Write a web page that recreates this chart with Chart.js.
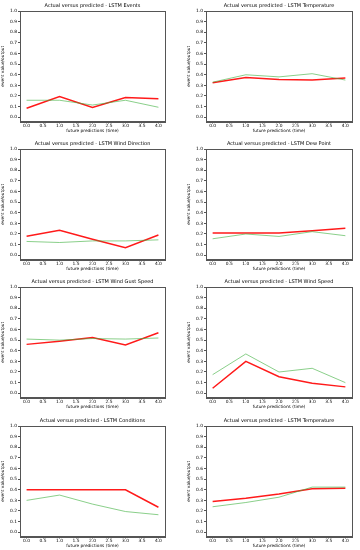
<!DOCTYPE html>
<html>
<head>
<meta charset="utf-8">
<script src="https://cdn.jsdelivr.net/npm/chart.js@4/dist/chart.umd.min.js"></script>
<style>
  html, body { margin: 0; padding: 0; background: #fff; }
  #page { position: relative; width: 360px; height: 550px; overflow: hidden; }
  .panel { position: absolute; width: 180px; height: 137px; }
</style>
</head>
<body>
<div id="page"></div>
<script>
// ── Data ──────────────────────────────────

const steps = [0, 1, 2, 3, 4];
const xTicks = [0, 0.5, 1, 1.5, 2, 2.5, 3, 3.5, 4];

const titles = [
  'Actual versus predicted - LSTM Events',
  'Actual versus predicted - LSTM Temperature',
  'Actual versus predicted - LSTM Wind Direction',
  'Actual versus predicted - LSTM Dew Point',
  'Actual versus predicted - LSTM Wind Gust Speed',
  'Actual versus predicted - LSTM Wind Speed',
  'Actual versus predicted - LSTM Conditions',
  'Actual versus predicted - LSTM Temperature'
];

// green = actual, red = predicted
const actualEvents       = [0.16, 0.16, 0.115, 0.16, 0.094];
const predictedEvents    = [0.085, 0.195, 0.092, 0.185, 0.175];
const actualTemp         = [0.33, 0.40, 0.38, 0.41, 0.35];
const predictedTemp      = [0.325, 0.375, 0.355, 0.35, 0.37];
const actualWindDir      = [0.13, 0.12, 0.135, 0.135, 0.145];
const predictedWindDir   = [0.178, 0.235, 0.15, 0.07, 0.19];
const actualDewPoint     = [0.155, 0.20, 0.177, 0.222, 0.184];
const predictedDewPoint  = [0.21, 0.21, 0.21, 0.23, 0.255];
const actualGust         = [0.51, 0.50, 0.515, 0.51, 0.52];
const predictedGust      = [0.46, 0.49, 0.525, 0.455, 0.57];
const actualWindSpeed    = [0.175, 0.37, 0.20, 0.235, 0.10];
const predictedWindSpeed = [0.047, 0.30, 0.155, 0.095, 0.06];
const actualConditions   = [0.30, 0.35, 0.265, 0.195, 0.165];
const predictedConditions= [0.40, 0.40, 0.40, 0.40, 0.235];
const actualTemp2        = [0.24, 0.28, 0.33, 0.425, 0.425];
const predictedTemp2     = [0.29, 0.32, 0.36, 0.41, 0.415];

const series = [
  [actualEvents, predictedEvents],
  [actualTemp, predictedTemp],
  [actualWindDir, predictedWindDir],
  [actualDewPoint, predictedDewPoint],
  [actualGust, predictedGust],
  [actualWindSpeed, predictedWindSpeed],
  [actualConditions, predictedConditions],
  [actualTemp2, predictedTemp2]
];

// ── Layout ────────────────────────────────

const rowTops = [0, 137.5, 276, 415];
const FONT = 'DejaVu Sans';
const AXIS = '#555';
const TEXT = '#000';

function points(values) {
  return steps.map((x, i) => ({ x: x, y: values[i] }));
}

function makeChart(idx) {
  const col = idx % 2;
  const row = Math.floor(idx / 2);

  const box = document.createElement('div');
  box.className = 'panel';
  box.style.left = (col * 180) + 'px';
  box.style.top = rowTops[row] + 'px';
  const canvas = document.createElement('canvas');
  canvas.width = 180;
  canvas.height = 137;
  box.appendChild(canvas);
  document.getElementById('page').appendChild(box);

  const [actual, predicted] = series[idx];

  return new Chart(canvas.getContext('2d'), {
    type: 'line',
    data: {
      datasets: [
        {
          label: 'actual',
          data: points(actual),
          borderColor: 'rgba(60,175,60,0.6)',
          borderWidth: 1,
          pointRadius: 0,
          tension: 0
        },
        {
          label: 'predicted',
          data: points(predicted),
          borderColor: '#ff1a1a',
          borderWidth: 1.5,
          pointRadius: 0,
          tension: 0
        }
      ]
    },
    options: {
      responsive: false,
      animation: false,
      layout: {
        padding: { left: col ? 6 : 0, right: col ? 8 : 15, top: 0, bottom: 3.5 }
      },
      plugins: {
        legend: { display: false },
        tooltip: { enabled: false },
        title: {
          display: true,
          text: titles[idx],
          fullSize: false,
          color: TEXT,
          font: { family: FONT, size: 5, weight: 'normal' },
          padding: { top: 3, bottom: 2 }
        }
      },
      scales: {
        x: {
          type: 'linear',
          min: -0.2,
          max: 4.2,
          afterFit: s => { s.height = 12; },
          afterBuildTicks: s => { s.ticks = xTicks.map(v => ({ value: v })); },
          ticks: {
            color: TEXT,
            font: { family: FONT, size: 4.4 },
            padding: 0,
            maxRotation: 0,
            autoSkip: false,
            callback: v => v.toFixed(1)
          },
          grid: {
            drawOnChartArea: false,
            tickLength: 2,
            tickColor: AXIS,
            color: AXIS
          },
          border: { color: AXIS, width: 1 },
          title: {
            display: true,
            text: 'future predictions (time)',
            color: TEXT,
            font: { family: FONT, size: 4.3 },
            padding: { top: 0, bottom: 0 }
          }
        },
        y: {
          type: 'linear',
          min: -0.04,
          max: 1.0,
          afterFit: s => { s.width = 20; },
          ticks: {
            stepSize: 0.1,
            includeBounds: false,
            color: TEXT,
            font: { family: FONT, size: 4.4 },
            padding: 1,
            callback: v => v.toFixed(1)
          },
          grid: {
            drawOnChartArea: false,
            tickLength: 2,
            tickColor: AXIS,
            color: AXIS
          },
          border: { color: AXIS, width: 1 },
          title: {
            display: true,
            text: 'event value/output',
            color: TEXT,
            font: { family: FONT, size: 4.3 },
            padding: { top: 0, bottom: 0 }
          }
        }
      }
    },
    plugins: [{
      // matplotlib-style frame on all four sides
      id: 'frame',
      afterDraw(chart) {
        const a = chart.chartArea;
        const c = chart.ctx;
        c.save();
        c.strokeStyle = AXIS;
        c.lineWidth = 1;
        c.strokeRect(Math.round(a.left) + 0.5, Math.round(a.top) + 0.5,
                     Math.round(a.right - a.left), Math.round(a.bottom - a.top));
        c.restore();
      }
    }]
  });
}

for (let i = 0; i < 8; i++) makeChart(i);
</script>
</body>
</html>
